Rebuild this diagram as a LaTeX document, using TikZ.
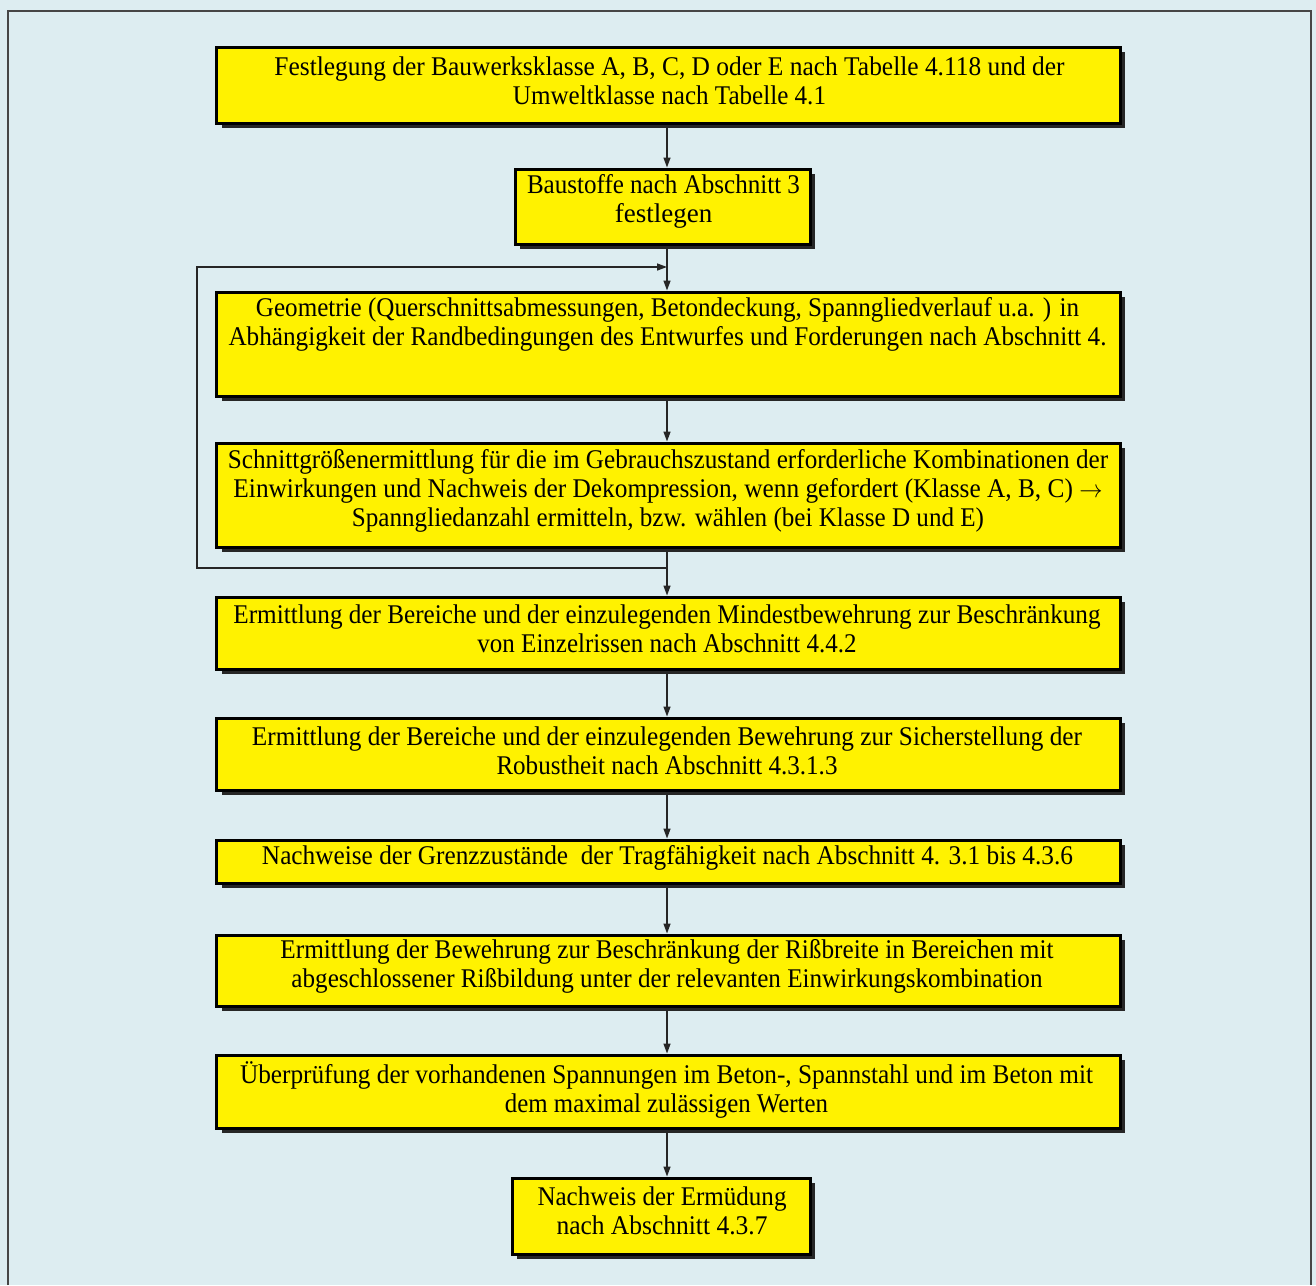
\documentclass[tikz,border=0pt]{standalone}
\usepackage{fontspec}
\setmainfont{Liberation Serif}
\usepackage{graphicx}
\usetikzlibrary{arrows.meta,shadows,calc}
\definecolor{bg}{RGB}{221,237,241}
\definecolor{boxyellow}{RGB}{255,242,0}
\definecolor{framegray}{RGB}{70,70,70}
\newcommand\fw[2]{\resizebox{#1bp}{\height}{#2}}
\begin{document}
\begin{tikzpicture}[x=1bp,y=-1bp,
  flowbox/.style={draw=black, line width=3bp, fill=boxyellow, inner sep=0pt,
    drop shadow={shadow xshift=5bp, shadow yshift=-5bp, fill=black!85, opacity=1}},
  boxtext/.style={align=center, inner sep=0pt, font=\fontsize{27bp}{29bp}\selectfont},
  arrowline/.style={draw=black!85, line width=1.4bp, -{Triangle[length=10bp,width=7bp]}}]
\fill[bg] (0,0) rectangle (1316,1285);
\useasboundingbox (0,0) rectangle (1316,1285);
\draw[framegray, line width=2bp] (8,1285) -- (8,11) -- (1311,11) -- (1311,1285);

\coordinate (spine) at (667,0);

% boxes
\node[flowbox, minimum width=903bp, minimum height=76bp]  (b1)  at (668.5,85) {};
\node[flowbox, minimum width=295bp, minimum height=75bp]  (b2)  at (662.5,206.5) {};
\node[flowbox, minimum width=903bp, minimum height=104bp] (b3)  at (668.5,344) {};
\node[flowbox, minimum width=903bp, minimum height=104bp] (b4)  at (668.5,495) {};
\node[flowbox, minimum width=903bp, minimum height=72bp]  (b5)  at (668.5,633) {};
\node[flowbox, minimum width=903bp, minimum height=72bp]  (b6)  at (668.5,754) {};
\node[flowbox, minimum width=903bp, minimum height=43bp]  (b7)  at (668.5,861.5) {};
\node[flowbox, minimum width=903bp, minimum height=71bp]  (b8)  at (668.5,970.5) {};
\node[flowbox, minimum width=903bp, minimum height=73bp]  (b9)  at (668.5,1091.5) {};
\node[flowbox, minimum width=298bp, minimum height=76bp]  (b10) at (661,1216) {};

% texts
\node[boxtext] (t1) at (669.5,80.5)
  {\fw{790}{Festlegung der Bauwerksklasse A, B, C, D oder E nach Tabelle 4.118 und der}\\
   \fw{313}{Umweltklasse nach Tabelle 4.1}};
\node[boxtext] (t2) at (663.5,201.5)
  {\fw{273}{Baustoffe nach Abschnitt 3}\\ festlegen};
\node[boxtext] (t3) at (667.5,324)
  {\fw{823}{Geometrie (Querschnittsabmessungen, Betondeckung, Spanngliedverlauf u.a. ) in}\\
   \fw{878}{Abhängigkeit der Randbedingungen des Entwurfes und Forderungen nach Abschnitt 4.}};
\node[boxtext] (t4) at (668,491)
  {\fw{880}{Schnittgrößenermittlung für die im Gebrauchszustand erforderliche Kombinationen der}\\
   \fw{869}{Einwirkungen und Nachweis der Dekompression, wenn gefordert (Klasse A, B, C) $\rightarrow$}\\
   \fw{632}{Spanngliedanzahl ermitteln, bzw. wählen (bei Klasse D und E)}};
\node[boxtext] (t5) at (667,628.5)
  {\fw{867}{Ermittlung der Bereiche und der einzulegenden Mindestbewehrung zur Beschränkung}\\
   \fw{379}{von Einzelrissen nach Abschnitt 4.4.2}};
\node[boxtext] (t6) at (667,751)
  {\fw{830}{Ermittlung der Bereiche und der einzulegenden Bewehrung zur Sicherstellung der}\\
   \fw{341}{Robustheit nach Abschnitt 4.3.1.3}};
\node[boxtext] (t7) at (667.5,858)
  {\fw{811}{Nachweise der Grenzzustände\ \ der Tragfähigkeit nach Abschnitt 4. 3.1 bis 4.3.6}};
\node[boxtext] (t8) at (667,966.5)
  {\fw{773}{Ermittlung der Bewehrung zur Beschränkung der Rißbreite in Bereichen mit}\\
   \fw{751}{abgeschlossener Rißbildung unter der relevanten Einwirkungskombination}};
\node[boxtext] (t9) at (666.5,1089.5)
  {\fw{853}{Überprüfung der vorhandenen Spannungen im Beton-, Spannstahl und im Beton mit}\\
   \fw{323}{dem maximal zulässigen Werten}};
\node[boxtext] (t10) at (662,1210.5)
  {\fw{249}{Nachweis der Ermüdung}\\ \fw{211}{nach Abschnitt 4.3.7}};

% connectors
\foreach \a/\b in {b1/b2,b2/b3,b3/b4,b4/b5,b5/b6,b6/b7,b7/b8,b8/b9,b9/b10}
  \draw[arrowline] (\a.south -| spine) -- (\b.north -| spine);

\coordinate (lbot) at (667,568);
\coordinate (lleft) at (197,568);
\coordinate (ltop) at (667,267);
\draw[arrowline] (lbot) -- (lleft) |- (ltop);
\end{tikzpicture}
\end{document}
